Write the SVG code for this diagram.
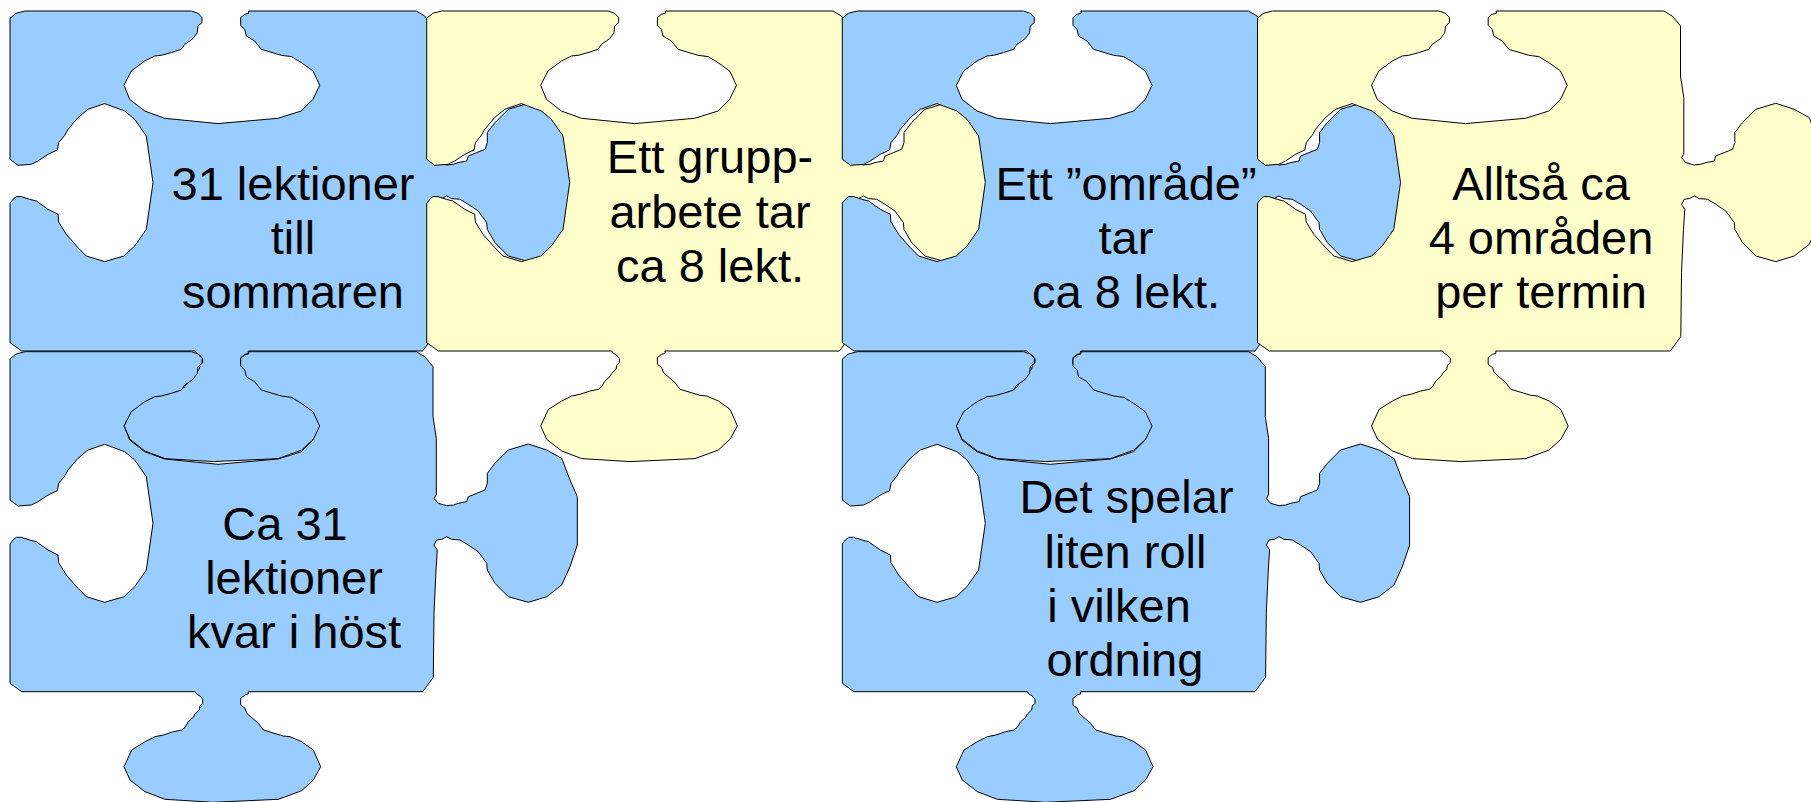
<svg xmlns="http://www.w3.org/2000/svg" width="1811" height="802" viewBox="0 0 1811 802">
<style>
.blue{fill:#99ccff;stroke:#000;stroke-width:1;stroke-linejoin:round}
.yellow{fill:#ffffcc;stroke:#000;stroke-width:1;stroke-linejoin:round}
.t{font-family:"Liberation Sans",Arial,sans-serif;font-size:47px;fill:#000;text-anchor:middle}
</style>
<defs>
<path id="piece" d="M0,7.3 L6,2.3 L15,0 L181.3,0 L188,2.3 L192,6.6 L192,11.6 L188,15 L187.3,21.6 L183,27.6 L179.7,30 L174.7,33.3 L171.3,38.3 L161.3,41.6 L151.3,44.3 L144.7,45 L134.7,50 L121.3,60 L114,74.3 L119.7,88.3 L134.7,100 L154.7,107.3 L208,112.6 L268,107.3 L291.3,100 L303,88.3 L309.7,74.3 L303,60 L291.3,51.6 L281.3,45.6 L271.3,44.3 L251.3,38.3 L244.7,30 L236.3,25 L234.7,18.3 L230.7,14.3 L230.7,6.6 L234.7,3.3 L238.7,2.3 L238.7,0 L406.3,0 L414.7,5 L423,15 L423,65 L426.3,86.6 L426.3,143.3 L424,146.6 L428.3,151.6 L436.7,154 L443.3,153.3 L448.3,151.6 L456.7,150 L458.3,145 L466.7,141.6 L475,138.3 L477.3,131.6 L477.3,121.6 L485,111.6 L498.3,98.3 L518.3,92.3 L536.7,98.3 L551.7,106.6 L560,128.3 L567.3,145 L567.3,193.3 L560,215 L551.7,233.3 L536.7,245 L518.3,250.6 L498.3,245 L485,231.6 L477.3,218.3 L476.7,211.6 L468.3,200 L458.3,193.3 L450,188.3 L441.7,187.6 L436.7,185 L431.7,187.6 L426.7,188.3 L424,193.3 L427.3,198.3 L426,218.3 L424,261.6 L423.3,325.6 L412.7,340 L238.3,340 L238.3,342.3 L235,343.3 L230.7,346.6 L230.7,353.3 L235,356.6 L236.7,361.6 L248.3,371.6 L253.3,378.3 L273.3,384.3 L280,385 L291.7,390 L303.3,398.3 L310.7,415 L303.3,428.3 L291.7,439 L268.3,447.6 L203.3,450.6 L155,447.6 L135,440 L120,428.3 L114,415 L121.7,398.3 L135,390 L145,385 L153.3,383.3 L163.3,380 L171.7,378.3 L175,375.6 L178.3,370 L183.3,365.6 L185,362.3 L189.3,358.3 L190,354.3 L192.7,351.6 L192.7,347.6 L190,344.3 L186.7,342.3 L185,340 L11.7,340 L0,331.6 L0,192.3 L3,188.3 L6.3,185.6 L11.3,185.6 L19.7,188.3 L26.3,190 L38,198.3 L48,203.3 L48.7,211 L56.3,223.3 L68,236.6 L76.3,245 L94.7,250.6 L114,245 L124.7,235 L136.3,218.3 L143,171.6 L136.3,125 L124.7,108.3 L114.7,100 L94.7,92.6 L78,98.3 L68,106.6 L58,118.3 L54.7,124.3 L48.7,131.6 L47.3,139 L38,143.3 L28,150 L21.3,153.3 L8,154.3 L0,148.3 Z"/>
</defs>
<g id="connectors"></g>
<g id="piece-a">
<use href="#piece" class="blue" transform="translate(10,11)"/>
<text class="t"><tspan x="293" y="200">31 lektioner</tspan><tspan x="293" y="254">till</tspan><tspan x="293" y="308">sommaren</tspan></text>
</g>
<g id="piece-b">
<use href="#piece" class="yellow" transform="translate(426.7,11)"/>
<text class="t"><tspan x="710" y="173.3">Ett grupp-</tspan><tspan x="710" y="227.7">arbete tar</tspan><tspan x="710" y="281.7">ca 8 lekt.</tspan></text>
</g>
<g id="piece-c">
<use href="#piece" class="blue" transform="translate(842.3,11)"/>
<text class="t"><tspan x="1126" y="200">Ett ”område”</tspan><tspan x="1126" y="254">tar</tspan><tspan x="1126" y="308">ca 8 lekt.</tspan></text>
</g>
<g id="piece-e">
<use href="#piece" class="yellow" transform="translate(1257.5,11)"/>
<text class="t"><tspan x="1541" y="200">Alltså ca</tspan><tspan x="1541" y="254">4 områden</tspan><tspan x="1541" y="308">per termin</tspan></text>
</g>
<g id="piece-d">
<use href="#piece" class="blue" transform="translate(10,351.7)"/>
<text class="t"><tspan x="285" y="540">Ca 31</tspan><tspan x="294" y="594">lektioner</tspan><tspan x="294" y="648">kvar i höst</tspan></text>
</g>
<g id="piece-f">
<use href="#piece" class="blue" transform="translate(842.3,351.7)"/>
<text class="t"><tspan x="1126.5" y="513.3">Det spelar</tspan><tspan x="1125.5" y="567.5">liten roll</tspan><tspan x="1119" y="621.5">i vilken</tspan><tspan x="1125" y="675.5">ordning</tspan></text>
</g>
</svg>
